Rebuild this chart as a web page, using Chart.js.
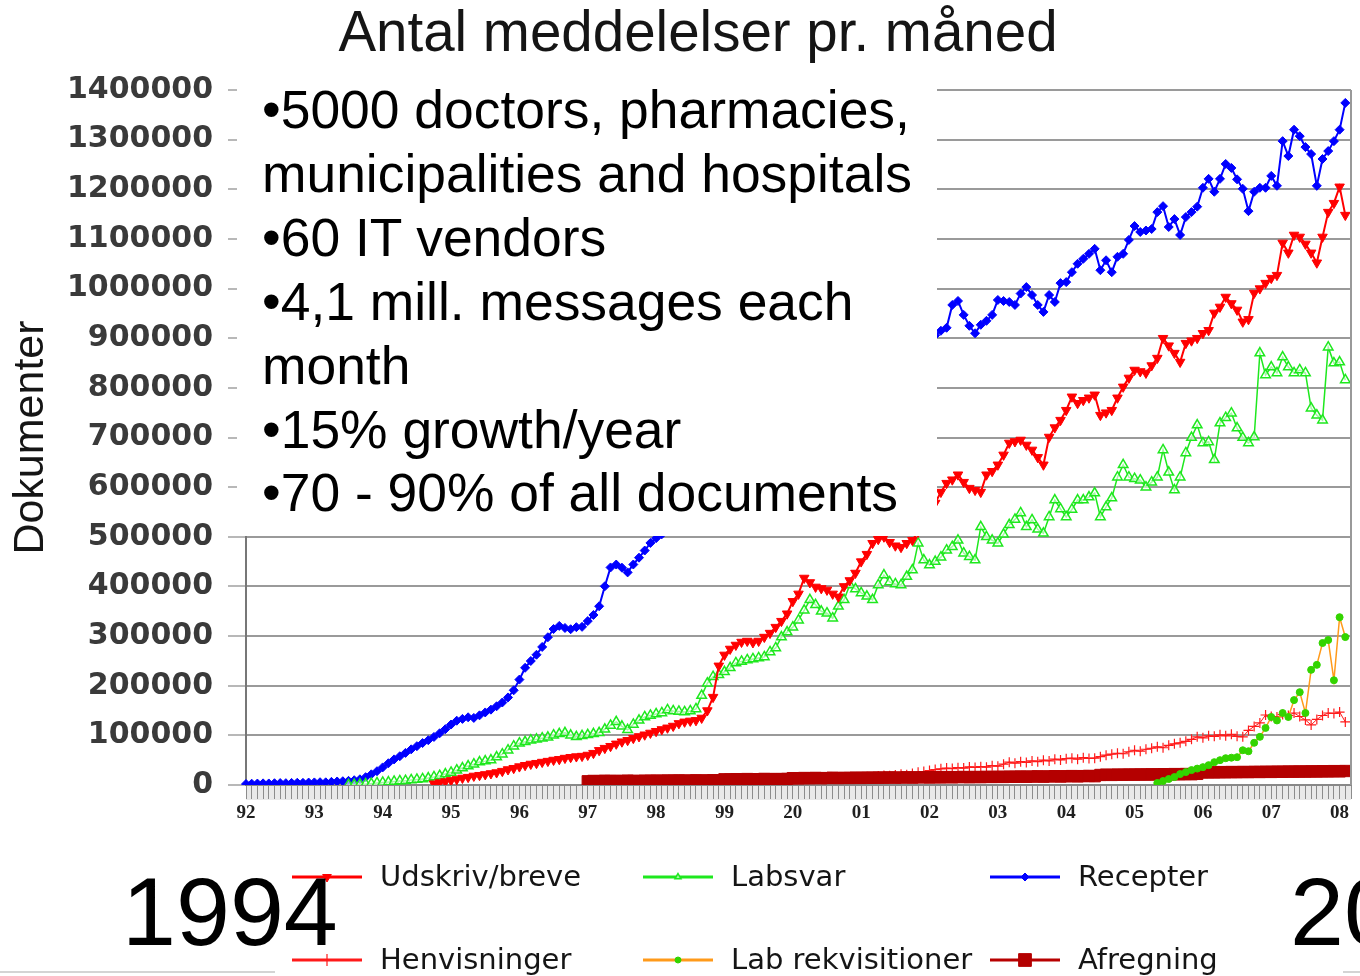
<!DOCTYPE html>
<html>
<head>
<meta charset="utf-8">
<script src="https://cdn.jsdelivr.net/npm/chart.js@4.4.1/dist/chart.umd.min.js"></script>
<style>
  html, body { margin: 0; padding: 0; background: #fff; overflow: hidden; }
  #ramme { position: relative; width: 1360px; height: 976px; overflow: hidden; }
  #graf { position: absolute; left: 0; top: 0; }
  .tekst { position: absolute; font-family: 'Liberation Sans', Arial, sans-serif; color: #000; white-space: nowrap; }
  #titel { left: 698px; top: 4px; font-size: 56.5px; line-height: 56.5px; transform: translateX(-50%); color: #151515; }
  #boks { left: 237px; top: 78px; width: 700px; height: 458px; background: #fff; }
  #boks div { font-size: 53.4px; line-height: 63.9px; padding-left: 25px; }
  .aar { top: 863px; font-size: 97px; line-height: 97px; }
  .streg { position: absolute; top: 971px; height: 2px; background: #d4d4d4; }
</style>
</head>
<body>
<div id="ramme">
  <canvas id="graf" width="1360" height="976"></canvas>
  <div class="tekst" id="titel">Antal meddelelser pr. måned</div>
  <div class="tekst" id="boks">
    <div>•5000 doctors, pharmacies,</div>
    <div>municipalities and hospitals</div>
    <div>•60 IT vendors</div>
    <div>•4,1 mill. messages each</div>
    <div>month</div>
    <div>•15% growth/year</div>
    <div>•70 - 90% of all documents</div>
  </div>
  <div class="tekst aar" style="left:122px;">1994</div>
  <div class="tekst aar" style="left:1290px;">20</div>
  <div class="streg" style="left:0; width:275px;"></div>
  <div class="streg" style="left:1343px; width:17px;"></div>
</div>
<script>
// Årstal på x-aksen (en etiket pr. januar, data er månedlige fra jan 92)
const aarEtiketter = ['92', '93', '94', '95', '96', '97', '98', '99', '20', '01', '02', '03', '04', '05', '06', '07', '08'];
const yMaks = 1400000;
const yTrin = 100000;

// Recepter, fra jan 1992
const recepterStart = 0;
const recepter = [
  2000, 2600, 2900, 3300, 3100, 3600, 3900, 3700, 4200, 4500, 4300, 4900,
  5200, 5600, 5400, 6300, 7100, 7600, 8400, 9600, 11500, 15800, 21500, 27800,
  35500, 43800, 51600, 57900, 64700, 71800, 78200, 84500, 90300, 96800, 104200, 112500,
  121800, 129500, 133200, 136400, 135100, 140300, 146200, 151800, 158600, 166200, 176400, 190800,
  212300, 236100, 249800, 262400, 278100, 297600, 314200, 320500, 316300, 313800, 317900, 318600,
  330200, 342500, 360100, 400300, 438200, 444100, 437800, 428300, 444200, 457900, 472300, 487600,
  497200, 505100, 521300, 530800, 526200, 538600, 551300, 546800, 568100, 584700, 596300, 612200,
  598100, 627800, 641200, 652300, 647100, 669700, 684200, 676300, 695800, 708100, 721300, 734200,
  722100, 745300, 756200, 768100, 761300, 782100, 793200, 786300, 804100, 815200, 826100, 836300,
  824100, 846300, 855200, 864100, 856300, 872100, 881200, 874300, 889100, 896200, 901300, 898200,
  904000, 906000, 915000, 921000, 967000, 975000, 947000, 925000, 910000, 927000, 935000, 947000,
  977000, 975000, 973000, 967000, 990000, 1003000, 987000, 967000, 953000, 987000, 973000, 1011000,
  1013000, 1033000, 1050000, 1060000, 1070000, 1080000, 1037000, 1057000, 1033000, 1064000, 1070000, 1098000,
  1126000, 1114000, 1117000, 1120000, 1154000, 1166000, 1124000, 1140000, 1108000, 1144000, 1154000, 1165000,
  1203000, 1221000, 1195000, 1221000, 1251000, 1243000, 1220000, 1201000, 1156000, 1195000, 1203000, 1203000,
  1227000, 1207000, 1297000, 1267000, 1320000, 1307000, 1285000, 1271000, 1207000, 1261000, 1277000, 1297000,
  1320000, 1374000
];

// Udskriv/breve, fra okt 1994
const udskrivStart = 33;
const udskrivBreve = [
  2500, 4800, 6900,
  9200, 11300, 14100, 15800, 18200, 19700, 21300, 23200, 25100, 27900, 31200, 33800,
  37100, 39800, 42300, 43900, 46200, 48100, 50300, 51800, 54200, 55900, 57300, 58200,
  60400, 64100, 69800, 74200, 78100, 82900, 87200, 90100, 94300, 97800, 101200, 104800,
  108300, 111900, 115200, 118800, 124100, 127200, 129100, 130200, 135000, 150000, 177000, 240000,
  262000, 274000, 282000, 288000, 290000, 287000, 290000, 298000, 306000, 318000, 330000, 345000,
  370000, 385000, 417000, 408000, 399000, 396000, 393000, 385000, 379000, 400000, 412000, 427000,
  450000, 465000, 487000, 495000, 500000, 489000, 482000, 479000, 487000, 493000, 510000, 535000,
  552000, 568000, 590000, 608000, 615000, 625000, 610000, 598000, 594000, 590000, 625000, 632000,
  645000, 665000, 689000, 692000, 695000, 685000, 675000, 660000, 645000, 701000, 720000, 735000,
  755000, 782000, 769000, 775000, 780000, 786000, 745000, 750000, 755000, 780000, 802000, 820000,
  836000, 833000, 830000, 845000, 860000, 900000, 885000, 870000, 852000, 890000, 895000, 900000,
  910000, 916000, 951000, 963000, 983000, 970000, 957000, 933000, 938000, 991000, 1000000, 1011000,
  1021000, 1027000, 1092000, 1072000, 1108000, 1104000, 1090000, 1072000, 1052000, 1104000, 1154000, 1172000,
  1205000, 1148000
];

// Labsvar, fra jul 1993
const labsvarStart = 18;
const labsvar = [
  500, 900, 1600, 2100, 2900, 4100,
  5200, 5900, 7100, 8200, 8800, 10100, 11300, 12200, 13900, 16200, 18800, 22100,
  25300, 29800, 34100, 38200, 41900, 46300, 48100, 50200, 56300, 62100, 70200, 78100,
  84200, 87100, 90300, 92100, 94200, 96100, 100300, 103200, 105100, 100200, 97100, 99200,
  101100, 103200, 105100, 112300, 120100, 127200, 118100, 111200, 122100, 130200, 137100, 140200,
  143100, 145200, 151100, 149200, 148100, 147200, 149100, 153200, 180100, 205200, 218100, 222200,
  228000, 236000, 246000, 249000, 252000, 254000, 256000, 258000, 268000, 276000, 298000, 308000,
  318000, 332000, 352000, 373000, 363000, 350000, 346000, 336000, 360000, 373000, 403000, 395000,
  387000, 380000, 373000, 403000, 423000, 409000, 405000, 403000, 420000, 433000, 487000, 453000,
  443000, 450000, 459000, 473000, 480000, 493000, 467000, 460000, 453000, 520000, 500000, 493000,
  487000, 505000, 524000, 535000, 548000, 520000, 534000, 515000, 507000, 540000, 574000, 556000,
  540000, 555000, 574000, 574000, 580000, 588000, 540000, 560000, 578000, 620000, 645000, 620000,
  617000, 614000, 600000, 610000, 620000, 675000, 630000, 594000, 620000, 669000, 700000, 725000,
  689000, 691000, 655000, 729000, 740000, 749000, 719000, 700000, 689000, 701000, 870000, 826000,
  842000, 830000, 862000, 842000, 830000, 836000, 830000, 759000, 745000, 735000, 882000, 850000,
  852000, 816000
];

// Henvisninger, fra jan 1997
const henvisningerStart = 60;
const henvisninger = [
  3000, 3400, 3200, 3800, 4100, 3900, 4500, 4800, 4600, 5200, 5500, 5300,
  5900, 6300, 6100, 6700, 7000, 6800, 7400, 7700, 7500, 8100, 8400, 8200,
  8800, 9200, 9000, 9600, 9900, 9700, 10300, 10600, 10400, 11000, 11300, 11100,
  11700, 12100, 11900, 12500, 12900, 12600, 13300, 13700, 13400, 14100, 14500, 14200,
  15500, 16800, 16200, 17900, 19000, 18400, 20100, 21500, 20800, 23000, 25500, 27000,
  29100, 31000, 32500, 34000, 33000, 35000, 34000, 36500, 35500, 37000, 36000, 39000,
  38000, 42000, 46000, 44000, 47000, 45500, 48500, 47000, 50000, 48500, 52000, 50500,
  53000, 54000, 52000, 55000, 53500, 54000, 57000, 60000, 62000, 64000, 63000, 67000,
  70000, 68000, 72000, 74000, 77000, 75000, 80000, 83000, 85000, 88000, 92000, 97000,
  95000, 99000, 98000, 101000, 99000, 102000, 98000, 97000, 110000, 118000, 125000, 141000,
  138000, 137000, 142000, 140000, 145000, 138000, 131000, 121000, 132000, 140000, 145000, 144000,
  147000, 127000
];

// Lab rekvisitioner, fra maj 2005
const labRekvStart = 160;
const labRekvisitioner = [
  4000, 8000, 12000, 16000, 22000, 26000, 30000, 33000,
  36000, 40000, 46000, 50000, 54000, 55000, 56000, 70000, 68000, 85000, 97000, 115000,
  137000, 130000, 145000, 137000, 171000, 187000, 145000, 232000, 242000, 286000, 292000, 211000,
  338000, 298000
];

// Afregning, fra jan 1997
const afregningStart = 60;
const afregning = [
  7500, 8200, 7800, 8600, 8000, 8400, 7900, 8800, 8300, 8100, 8700, 8500,
  8900, 8400, 9100, 8700, 9300, 8800, 9000, 9400, 8900, 9200, 9600, 9100,
  11500, 10900, 11800, 11200, 12000, 11400, 11700, 12300, 11600, 12100, 11800, 12400,
  13800, 13200, 14100, 13500, 14300, 13700, 14000, 14600, 13900, 14400, 14100, 14800,
  14200, 14900, 14500, 15100, 14600, 15300, 14800, 15000, 15500, 14900, 15400, 15700,
  15100, 15800, 15300, 16000, 15500, 15900, 16200, 15600, 16300, 15800, 16500, 16100,
  16600, 16200, 16900, 16400, 17100, 16600, 17000, 17400, 16800, 17300, 17700, 17100,
  17600, 18000, 17400, 17900, 18300, 17700, 20200, 20800, 20300, 21000, 20500, 21200,
  20700, 21400, 20900, 21600, 21100, 21800, 21300, 22000, 21500, 22200, 21700, 22400,
  25200, 25800, 25300, 26000, 25500, 26200, 25700, 26400, 25900, 26600, 26100, 26800,
  26300, 27000, 26500, 27200, 26700, 27400, 26900, 27600, 27100, 27800, 27300, 28000,
  27500, 28200
];

// Månedsetiketter: årstal i januar, ellers tom
const maanedEtiketter = [];
aarEtiketter.forEach((aar, i) => {
  const antal = i === aarEtiketter.length - 1 ? 3 : 12;
  for (let m = 0; m < antal; m++) maanedEtiketter.push(m === 0 ? aar : '');
});

function fuld(start, vaerdier) {
  return Array(start).fill(null).concat(vaerdier);
}

// Grå bånd under x-aksen og ramme til højre
const baandPlugin = {
  id: 'baand',
  beforeDraw(chart) {
    const { ctx, chartArea } = chart;
    ctx.save();
    ctx.fillStyle = '#e9e9e9';
    ctx.fillRect(chartArea.left, chartArea.bottom + 1, chartArea.right - chartArea.left, 14);
    ctx.restore();
  },
  afterDraw(chart) {
    const { ctx, chartArea } = chart;
    ctx.save();
    ctx.strokeStyle = '#999';
    ctx.lineWidth = 2;
    ctx.beginPath();
    ctx.moveTo(chartArea.right, chartArea.top);
    ctx.lineTo(chartArea.right, chartArea.bottom);
    ctx.stroke();
    ctx.restore();
  }
};

// Forklaring i tre kolonner, to rækker
const legendePlugin = {
  id: 'legende',
  afterDraw(chart) {
    const ctx = chart.ctx;
    const kolonner = [292, 643, 990];
    const raekker = [877, 960];
    chart.data.datasets.forEach((ds, i) => {
      const x = kolonner[i % 3];
      const y = raekker[Math.floor(i / 3)];
      ctx.save();
      ctx.strokeStyle = ds.borderColor;
      ctx.lineWidth = 3;
      ctx.beginPath();
      ctx.moveTo(x, y);
      ctx.lineTo(x + 70, y);
      ctx.stroke();
      ctx.fillStyle = ds.pointBackgroundColor;
      ctx.strokeStyle = ds.pointBorderColor;
      ctx.lineWidth = ds.pointBorderWidth;
      Chart.helpers.drawPoint(ctx, {
        pointStyle: ds.pointStyle,
        rotation: ds.pointRotation || 0,
        radius: ds.legendeRadius,
        borderWidth: ds.pointBorderWidth
      }, x + 35, y);
      ctx.fillStyle = '#151515';
      ctx.font = '29px "DejaVu Sans"';
      ctx.textBaseline = 'middle';
      ctx.fillText(ds.label, x + 88, y + 1);
      ctx.restore();
    });
  }
};

const ctx = document.getElementById('graf').getContext('2d');

new Chart(ctx, {
  type: 'line',
  data: {
    labels: maanedEtiketter,
    datasets: [
      {
        label: 'Udskriv/breve',
        data: fuld(udskrivStart, udskrivBreve),
        borderColor: '#ff0000', borderWidth: 2,
        pointStyle: 'triangle', pointRotation: 180, pointRadius: 5.5,
        pointBackgroundColor: '#ff0000', pointBorderColor: '#ff0000', pointBorderWidth: 1,
        legendeRadius: 5
      },
      {
        label: 'Labsvar',
        data: fuld(labsvarStart, labsvar),
        borderColor: '#1ee81e', borderWidth: 1.5,
        pointStyle: 'triangle', pointRadius: 5.5,
        pointBackgroundColor: 'rgba(255,255,255,0.6)', pointBorderColor: '#1ee81e', pointBorderWidth: 1.5,
        legendeRadius: 3.5
      },
      {
        label: 'Recepter',
        data: fuld(recepterStart, recepter),
        borderColor: '#0000ff', borderWidth: 2,
        pointStyle: 'rectRot', pointRadius: 4.5,
        pointBackgroundColor: '#0000ff', pointBorderColor: '#0000ff', pointBorderWidth: 1,
        legendeRadius: 4
      },
      {
        label: 'Henvisninger',
        data: fuld(henvisningerStart, henvisninger),
        order: 1,
        borderColor: '#ff1a1a', borderWidth: 1,
        pointStyle: 'cross', pointRadius: 5,
        pointBackgroundColor: '#ff1a1a', pointBorderColor: '#ff1a1a', pointBorderWidth: 1.2,
        legendeRadius: 6
      },
      {
        label: 'Lab rekvisitioner',
        data: fuld(labRekvStart, labRekvisitioner),
        borderColor: '#ff9a1a', borderWidth: 1.5,
        pointStyle: 'circle', pointRadius: 3.5,
        pointBackgroundColor: '#33d400', pointBorderColor: '#33d400', pointBorderWidth: 1,
        legendeRadius: 3
      },
      {
        label: 'Afregning',
        data: fuld(afregningStart, afregning),
        borderColor: '#b80000', borderWidth: 2,
        pointStyle: 'rect', pointRadius: 8,
        pointBackgroundColor: '#b40000', pointBorderColor: '#b40000', pointBorderWidth: 1,
        legendeRadius: 9
      }
    ]
  },
  options: {
    responsive: false,
    animation: false,
    devicePixelRatio: 1,
    layout: { padding: { top: 90, right: 3, bottom: 151, left: 0 } },
    elements: { line: { tension: 0 } },
    plugins: {
      legend: { display: false },
      tooltip: { enabled: false }
    },
    scales: {
      x: {
        ticks: {
          autoSkip: false, maxRotation: 0, minRotation: 0, padding: 3,
          color: '#202020',
          font: { family: "'Liberation Serif', serif", size: 19, weight: 'bold' }
        },
        grid: { drawOnChartArea: false, tickLength: 14, color: '#8c8c8c', lineWidth: 1 },
        border: { color: '#888', width: 2 },
        afterFit(skala) { skala.height = 40; }
      },
      y: {
        min: 0,
        max: yMaks,
        ticks: {
          stepSize: yTrin,
          padding: 15,
          color: '#3a3a3a',
          font: { family: "'DejaVu Sans', sans-serif", size: 30, weight: 'bold' },
          callback: v => String(v)
        },
        grid: { color: '#9a9a9a', lineWidth: 2, tickLength: 18, tickColor: '#b8b8b8', tickWidth: 2 },
        border: { color: '#777', width: 2 },
        title: {
          display: true,
          text: 'Dokumenter',
          color: '#151515',
          padding: { top: 5, bottom: 0 },
          font: { family: "'Liberation Sans', Arial, sans-serif", size: 43, lineHeight: 1.2 }
        },
        afterFit(skala) { skala.width = 246; }
      }
    }
  },
  plugins: [baandPlugin, legendePlugin]
});
</script>
</body>
</html>
